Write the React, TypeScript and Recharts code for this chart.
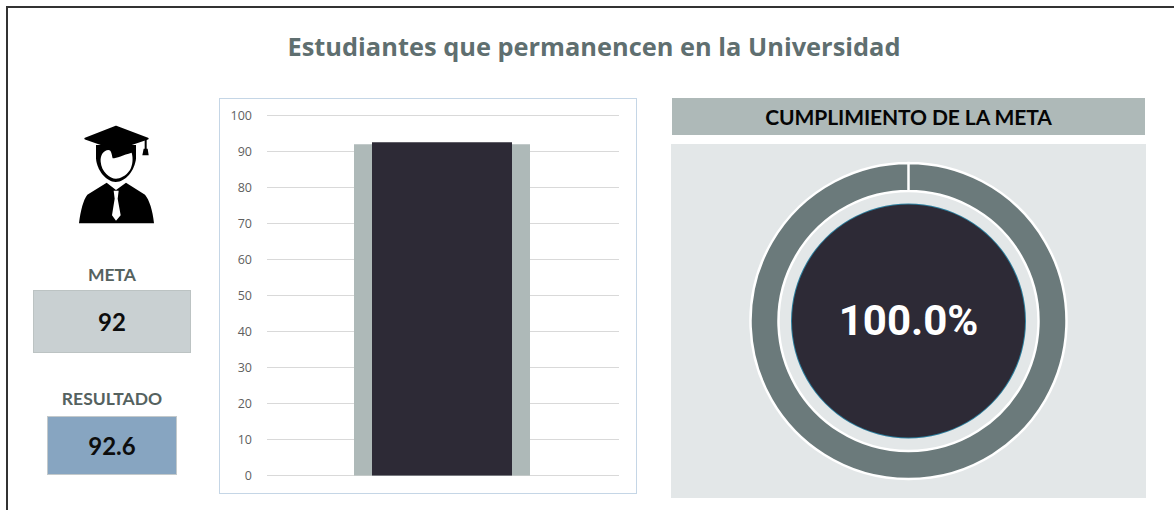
import { Bar, BarChart, CartesianGrid, Cell, Pie, PieChart, XAxis, YAxis } from "recharts";

const title = "Estudiantes que permanencen en la Universidad";
const goalTitle = "CUMPLIMIENTO DE LA META";
const categories = ["Permanencia"];
const metaValues = [92];
const resultValues = [92.6];
const yTicks = [0, 10, 20, 30, 40, 50, 60, 70, 80, 90, 100];
const ringValues = [100, 0];
const centerValues = [100];
const centerLabel = "100.0%";

const barData = categories.map((name, i) => ({
  name,
  meta: metaValues[i],
  resultado: resultValues[i],
}));
const ringData = ringValues.map((value) => ({ value }));
const centerData = centerValues.map((value) => ({ value }));

const box = (left: number, top: number, width: number, height: number): React.CSSProperties => ({
  position: "absolute",
  left,
  top,
  width,
  height,
  boxSizing: "border-box",
});

function StudentIcon() {
  return (
    <svg viewBox="0 0 660 450" style={box(0, 90, 220, 150)}>
      <path d="M237 400 C242 360 250 330 262 314 L320 278 L348 300 L378 278 L435 314 C448 330 458 360 462 400 Z" fill="#000" />
      <path d="M341 302 L356 302 L353 326 L362 376 L348 392 L336 376 L344 326 Z" fill="#fff" />
      <path d="M288 165 L288 205 C290 240 318 276 347 276 C378 276 405 240 408 205 L408 165 Z" fill="#000" />
      <path d="M302 215 C300 195 312 180 325 180 C335 180 335 195 338 205 C350 205 370 195 395 188 C400 205 398 225 390 240 C378 258 360 266 348 266 C330 266 304 245 302 215 Z" fill="#fff" />
      <path d="M256 146 L348 110 L443 146 L348 178 Z" fill="#000" stroke="#000" strokeWidth={6} strokeLinejoin="round" />
      <path d="M437 148 L437 178" stroke="#000" strokeWidth={6} />
      <path d="M431 176 L443 176 L446 196 L427 196 Z" fill="#000" />
    </svg>
  );
}

function ValueBox({ label, value, labelTop, left, top, width, height, fill, border }: {
  label: string; value: string; labelTop: number; left: number; top: number;
  width: number; height: number; fill: string; border: string;
}) {
  return (
    <>
      <div style={{ ...box(left - 30, labelTop, width + 60, 24), textAlign: "center", fontFamily: "Lato", fontWeight: 700, fontSize: 17.5, lineHeight: "24px", color: "#55625f" }}>
        {label}
      </div>
      <div style={{ ...box(left, top, width, height), background: fill, border: `1.5px solid ${border}`, textAlign: "center", fontFamily: "Lato", fontWeight: 700, fontSize: 24, lineHeight: `${height - 1}px`, color: "#0d0d0d" }}>
        {value}
      </div>
    </>
  );
}

export default function App() {
  return (
    <div style={{ ...box(0, 0, 1174, 510), background: "#fff", overflow: "hidden" }}>
      <div style={{ ...box(6, 6, 1168, 504), borderLeft: "2px solid #333", borderTop: "2px solid #333" }} />
      <div style={{ ...box(0, 26, 1188, 40), textAlign: "center", fontFamily: "Open Sans", fontWeight: 700, fontSize: 25.4, lineHeight: "40px", color: "#5f6f70" }}>
        {title}
      </div>

      <StudentIcon />
      <ValueBox label="META" value={String(metaValues[0])} labelTop={263} left={33} top={290} width={158} height={63} fill="#c9d0d2" border="#bcc3c3" />
      <ValueBox label="RESULTADO" value={String(resultValues[0])} labelTop={387} left={47} top={416} width={130} height={59} fill="#87a5c1" border="#c3c9cb" />

      <div style={{ ...box(219, 98, 418, 396), border: "1.5px solid #c5d6e6" }} />
      <div style={box(219, 98, 418, 396)}>
        <BarChart width={418} height={396} data={barData} margin={{ top: 17.5, right: 18, bottom: 18.5, left: 0 }}>
          <CartesianGrid horizontal vertical={false} stroke="#d9d9d9" strokeWidth={1} />
          <XAxis xAxisId="meta" dataKey="name" hide padding={{ left: 0, right: 2 }} />
          <XAxis xAxisId="resultado" dataKey="name" hide padding={{ left: 0, right: 2 }} />
          <YAxis
            width={48}
            domain={[0, 100]}
            ticks={yTicks}
            interval={0}
            axisLine={false}
            tickLine={false}
            tickSize={0}
            tickMargin={15}
            tick={{ fontSize: 12.5, fontFamily: "Open Sans", fill: "#5f5f5f" }}
          />
          <Bar xAxisId="meta" dataKey="meta" fill="#aeb9b8" barSize={176} isAnimationActive={false} />
          <Bar xAxisId="resultado" dataKey="resultado" fill="#2d2a36" barSize={140} isAnimationActive={false} />
        </BarChart>
      </div>

      <div style={{ ...box(672, 98, 473, 37), background: "#aeb9b8", textAlign: "center", fontFamily: "Lato", fontWeight: 700, fontSize: 21, lineHeight: "38px", letterSpacing: -0.1, color: "#050505" }}>
        {goalTitle}
      </div>
      <div style={{ ...box(671, 144, 475, 354), background: "#e3e7e8" }}>
        <PieChart width={475} height={354} margin={{ top: 0, right: 0, bottom: 0, left: 0 }}>
          <Pie
            data={ringData}
            dataKey="value"
            cx={237.5}
            cy={177}
            startAngle={90}
            endAngle={-270}
            innerRadius={130}
            outerRadius={158}
            paddingAngle={0}
            stroke="#fff"
            strokeWidth={2.5}
            isAnimationActive={false}
          >
            {ringData.map((_, i) => (
              <Cell key={i} fill="#6b7a7b" />
            ))}
          </Pie>
          <Pie
            data={centerData}
            dataKey="value"
            cx={237.5}
            cy={177}
            startAngle={90}
            endAngle={-270}
            innerRadius={0}
            outerRadius={117.5}
            fill="#2d7f9e"
            stroke="none"
            isAnimationActive={false}
          />
          <Pie
            data={centerData}
            dataKey="value"
            cx={237.5}
            cy={177}
            startAngle={90}
            endAngle={-270}
            innerRadius={0}
            outerRadius={116.5}
            fill="#2d2a36"
            stroke="none"
            isAnimationActive={false}
          />
        </PieChart>
      </div>
      <div style={{ ...box(671, 298, 475, 46), textAlign: "center", fontFamily: "Roboto, Arial, sans-serif", fontWeight: 700, fontSize: 42, lineHeight: "46px", color: "#fff" }}>
        {centerLabel}
      </div>
    </div>
  );
}
